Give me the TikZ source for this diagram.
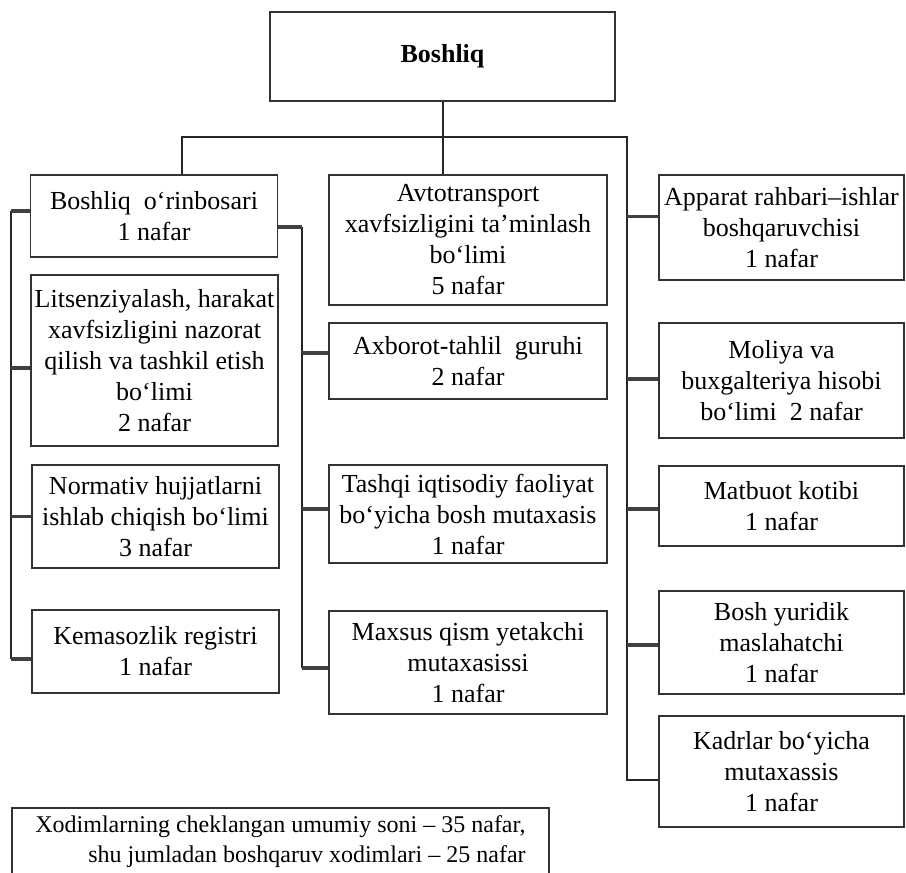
\documentclass[tikz,border=0pt]{standalone}
\usepackage{fontspec}
\setmainfont{Liberation Serif}
\usetikzlibrary{positioning, calc}

\begin{document}
\begin{tikzpicture}[x=1pt, y=-1pt,
    unit/.style={draw=black!80, line width=1.1pt, align=center, inner sep=2pt,
        font=\fontsize{26}{31}\selectfont},
    colL/.style={unit, minimum width=247pt},
    colM/.style={unit, minimum width=278pt},
    colR/.style={unit, minimum width=245pt},
    link/.style={black!85, line width=2pt},
    stub/.style={black!75, line width=3.5pt}]
\useasboundingbox (0,0) rectangle (906,873);

% Head
\node[unit, minimum width=345pt, minimum height=89pt,
    font=\fontsize{26}{31}\selectfont\bfseries] (boss) at (442.5,56.5) {Boshliq};

% Left column
\node[colL, minimum height=82pt] (dep) at (154,216) {Boshliq\ \ o‘rinbosari\\1 nafar};
\node[colL, minimum height=171pt] (lits) at (154.5,360.5)
    {Litsenziyalash, harakat\\xavfsizligini nazorat\\qilish va tashkil etish\\bo‘limi\\2 nafar};
\node[colL, minimum height=103pt] (norm) at (155.5,516.5)
    {Normativ hujjatlarni\\ishlab chiqish bo‘limi\\3 nafar};
\node[colL, minimum height=83pt] (kem) at (155.5,651.5) {Kemasozlik registri\\1 nafar};

% Middle column
\node[colM, minimum height=130pt] (avto) at (468,240)
    {Avtotransport\\xavfsizligini ta’minlash\\bo‘limi\\5 nafar};
\node[colM, minimum height=76pt] (axb) at (468,361) {Axborot-tahlil\ \ guruhi\\2 nafar};
\node[colM, minimum height=98pt] (tash) at (468,514)
    {Tashqi iqtisodiy faoliyat\\bo‘yicha bosh mutaxasis\\1 nafar};
\node[colM, minimum height=103pt] (maxs) at (468,662.5)
    {Maxsus qism yetakchi\\mutaxasissi\\1 nafar};

% Right column
\node[colR, minimum height=105pt] (app) at (781.5,227.5)
    {Apparat rahbari–ishlar\\boshqaruvchisi\\1 nafar};
\node[colR, minimum height=115pt] (mol) at (781.5,380.5)
    {Moliya va\\buxgalteriya hisobi\\bo‘limi\ \ 2 nafar};
\node[colR, minimum height=80pt] (mat) at (781.5,506) {Matbuot kotibi\\1 nafar};
\node[colR, minimum height=103pt] (yur) at (781.5,642.5) {Bosh yuridik\\maslahatchi\\1 nafar};
\node[colR, minimum height=111pt] (kad) at (781.5,771.5) {Kadrlar bo‘yicha\\mutaxassis\\1 nafar};

% Total staff
\node[unit, minimum width=537pt, minimum height=68pt, align=right,
    font=\fontsize{24}{30}\selectfont] (jami) at (280.5,842)
    {Xodimlarning cheklangan umumiy soni – 35 nafar,\\shu jumladan boshqaruv xodimlari – 25 nafar};

% Top bus
\coordinate (busL) at (182,137);
\coordinate (busR) at (627,137);
\draw[link] (boss.south) -- (boss.south |- avto.north);
\draw[link] (dep.north -| busL) -- (busL) -- (busR) -- ([yshift=-8pt]kad.west -| busR)
    -- ([yshift=-8pt]kad.west);
\draw[stub] ([yshift=11pt]app.west) -- ([yshift=11pt]app.west -| busR);
\draw[stub] ([yshift=1.5pt]mol.west) -- ([yshift=1.5pt]mol.west -| busR);
\draw[stub] ([yshift=-3pt]mat.west) -- ([yshift=-3pt]mat.west -| busR);
\draw[stub] ([yshift=-2.5pt]yur.west) -- ([yshift=-2.5pt]yur.west -| busR);

% Left spine
\coordinate (spineL) at (11,0);
\draw[link] ([yshift=5pt]dep.west -| spineL) -- ([yshift=-7.5pt]kem.west -| spineL);
\draw[stub] ([yshift=5pt]dep.west) -- ([yshift=5pt]dep.west -| spineL);
\draw[stub] ([yshift=-7.5pt]lits.west) -- ([yshift=-7.5pt]lits.west -| spineL);
\draw[stub] (norm.west) -- (norm.west -| spineL);
\draw[stub] ([yshift=-7.5pt]kem.west) -- ([yshift=-7.5pt]kem.west -| spineL);

% Middle spine
\coordinate (spineM) at (302,0);
\draw[link] ([yshift=-11pt]dep.east -| spineM) -- ([yshift=-5.5pt]maxs.west -| spineM);
\draw[stub] ([yshift=-11pt]dep.east) -- ([yshift=-11pt]dep.east -| spineM);
\draw[stub] ([yshift=8pt]axb.west) -- ([yshift=8pt]axb.west -| spineM);
\draw[stub] ([yshift=5pt]tash.west) -- ([yshift=5pt]tash.west -| spineM);
\draw[stub] ([yshift=-5.5pt]maxs.west) -- ([yshift=-5.5pt]maxs.west -| spineM);
\end{tikzpicture}
\end{document}
